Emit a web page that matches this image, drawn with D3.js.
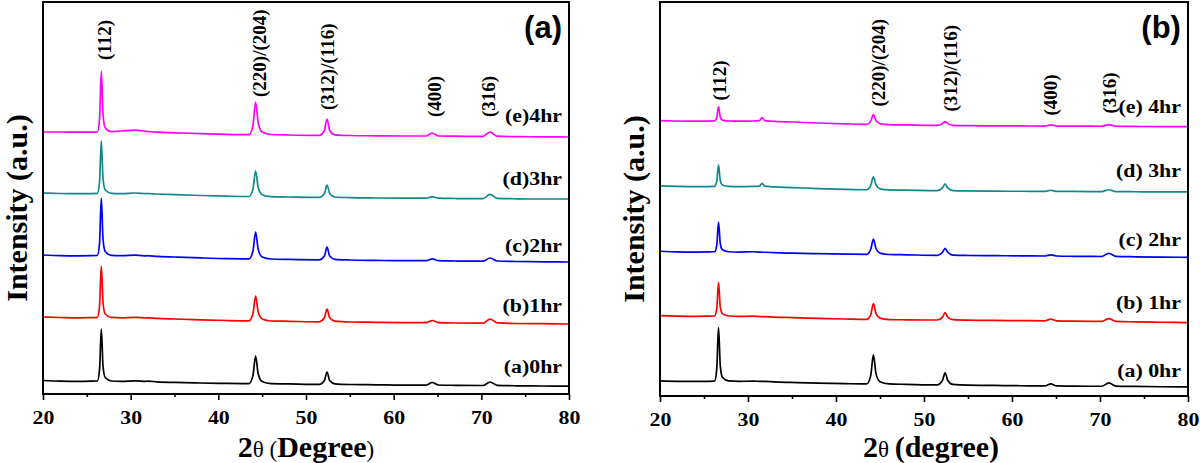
<!DOCTYPE html>
<html>
<head>
<meta charset="utf-8">
<script src="https://cdn.jsdelivr.net/npm/d3@7/dist/d3.min.js"></script>
<style>
  body { margin: 0; background: #fff; }
</style>
</head>
<body>
<svg id="chart" width="1200" height="463"></svg>
<script>
// 2-theta grid shared by every pattern
var theta = [20, 22, 24, 25.5, 26.2, 26.45, 26.65, 26.85, 27.1, 27.8, 29, 30.5, 31.3, 31.6, 31.9, 33, 35, 38, 41,
             43.5, 43.95, 44.25, 44.55, 45.0, 46, 48, 51.5, 52.1, 52.4, 52.7, 53.3, 55, 58, 61,
             63.7, 64.4, 65.1, 67, 70.2, 71.0, 71.8, 74, 77, 80];

// panel (a) intensities (a.u., before stacking offset)
var a0hr = [13.5, 12.8, 12.6, 12.8, 13, 24.5, 65, 27.5, 16.5, 13, 12.7, 13.2, 12.8, 12.6, 12.9, 12.2, 11.6, 11, 10.6,
            10.4, 18.6, 38, 20, 12.5, 10.4, 10.1, 9.6, 13.5, 22, 13.5, 10.2, 9.5, 9.2, 8.9,
            8.9, 11.5, 9, 8.7, 8.5, 12, 8.7, 8.2, 8, 7.8];
var a1hr = [14, 13.5, 13.2, 13.3, 13.6, 25, 65, 28, 17, 13.6, 13.2, 13.6, 13.3, 13, 13.2, 12.6, 12, 11.2, 10.5,
            10.2, 17.5, 35, 19, 12, 10, 9.7, 9.2, 13.2, 22, 13.2, 9.8, 9, 8.7, 8.4,
            8.3, 10.5, 8.4, 8, 7.8, 12, 8.2, 7.5, 7.3, 7];
var a2hr = [14, 13.4, 13.2, 13.3, 13.5, 26, 71, 29.5, 17.5, 13.6, 13.3, 13.8, 13.4, 13.1, 13.3, 12.6, 12, 11.1, 10.4,
            10.2, 18, 37, 19.5, 12, 10, 9.6, 9.2, 13, 22, 13, 9.7, 9, 8.6, 8.3,
            8.3, 10.2, 8.3, 8, 7.8, 11, 8, 7.5, 7.2, 7];
var a3hr = [14, 13.5, 13.3, 13.4, 13.6, 25, 66, 28, 17, 13.7, 13.4, 14, 13.6, 13.4, 13.5, 13, 12.3, 11.5, 10.8,
            10.5, 18, 36, 19.5, 12.3, 10.3, 10, 9.6, 13.5, 22, 13.5, 10, 9.4, 9, 8.8,
            8.8, 10.3, 8.8, 8.5, 8.3, 12.7, 8.7, 8.2, 8, 8];
var a4hr = [13, 13, 12.8, 12.8, 13, 26, 74, 30, 17, 13.4, 14, 14.8, 14.2, 13.8, 13.5, 12.8, 12.2, 11.4, 10.6,
            10.3, 19.5, 43, 22, 13, 10.5, 10, 9.6, 14.5, 26, 14.5, 10.2, 9.5, 9.2, 9,
            9, 12, 9, 8.8, 8.6, 13, 8.8, 8.4, 8.2, 8];

// panel (b) intensities
var b0hr = [15, 14.6, 14.5, 14.6, 14.8, 27, 68, 30, 18.5, 15, 14.6, 14.8, 14.6, 14.5, 14.5, 14, 13.5, 12.8, 12.3,
            12, 20.5, 41, 22, 14.2, 12, 11.6, 11, 15.5, 23, 15.5, 11.5, 10.8, 10.5, 10.2,
            10, 12, 10, 9.8, 9.7, 13, 9.8, 9.5, 9.2, 9];
var b1hr = [15, 14.5, 14.3, 14.4, 14.6, 22, 48, 23.5, 17, 14.6, 14.2, 14.4, 14.1, 14, 14, 13.5, 13, 12.3, 11.6,
            11.2, 16, 27, 17, 12.5, 11, 10.8, 10.6, 13.5, 18, 13.5, 11, 10.5, 10.2, 10,
            9.8, 11.5, 9.8, 9.5, 9.3, 12, 9.3, 8.8, 8.4, 8];
var b2hr = [15, 14.4, 14.2, 14.3, 14.5, 21, 44, 22.5, 16.5, 14.5, 14.2, 14.5, 14.2, 14, 14, 13.6, 13.1, 12.6, 12.2,
            12, 17, 27, 17.5, 13.2, 11.8, 11.5, 11, 14, 18, 14, 11.2, 10.8, 10.6, 10.5,
            10.3, 11.5, 10.3, 10, 9.8, 13, 9.9, 9.5, 9.2, 9];
var b3hr = [15, 14.5, 14.3, 14.4, 14.6, 19.5, 36, 20.5, 16, 14.6, 14.3, 14.5, 14.8, 17.5, 14.8, 14, 13.4, 12.4, 11.6,
            11.2, 15.5, 24, 16, 12, 11, 10.8, 10.3, 13, 17, 13, 10.4, 10, 9.8, 9.7,
            9.6, 10.7, 9.6, 9.5, 9.4, 11.2, 9.4, 9.2, 9, 9];
var b4hr = [15, 14.6, 14.4, 14.5, 14.7, 18, 29, 18.5, 15.5, 14.6, 14.4, 14.6, 15, 18, 15, 14.2, 13.6, 12.6, 11.8,
            11.3, 14.5, 21, 15, 12, 11, 10.7, 10.2, 12, 14, 12, 10.3, 10, 9.8, 9.7,
            9.6, 10.7, 9.6, 9.5, 9.4, 11, 9.4, 9.2, 9, 9];

var offsetsA = [0, 63, 125, 187, 249];
var offsetsB = [0, 65, 129, 194, 259];
var colors = ['#000000', '#ff0000', '#0000ff', '#0f8a8a', '#ff00ff'];
var namesA = ['(a)0hr', '(b)1hr', '(c)2hr', '(d)3hr', '(e)4hr'];
var namesB = ['(a) 0hr', '(b) 1hr', '(c) 2hr', '(d) 3hr', '(e) 4hr'];
var nameLevelA = [21, 82, 142, 209, 272];
var nameLevelB = [19, 87, 149, 218, 282];

// reflections
var peakLabels = ['(112)', '(220)/(204)', '(312)/(116)', '(400)', '(316)'];
var peakLabelThetaA = [27.8, 45.45, 53.2, 65.4, 71.55];
var peakLabelLevelA = [334, 297, 284, 277, 277];
var peakLabelThetaB = [27.5, 45.55, 53.75, 65.1, 71.8];
var peakLabelLevelB = [294, 288, 283, 279, 281];

var majorTicks = [20, 30, 40, 50, 60, 70, 80];
var minorTicks = [25, 35, 45, 55, 65, 75];

var serif = '"Liberation Serif", "Times New Roman", serif';
var sans = '"Liberation Sans", Arial, sans-serif';

var svg = d3.select('#chart');

var panels = [
    {left: 43, right: 569, top: 2, bottom: 394,
     series: [a0hr, a1hr, a2hr, a3hr, a4hr], offsets: offsetsA, names: namesA, nameLevel: nameLevelA,
     peakTheta: peakLabelThetaA, peakLevel: peakLabelLevelA, tag: '(a)', unit: 'Degree', boldParen: false, titleShift: 0},
    {left: 660, right: 1188, top: 2, bottom: 396,
     series: [b0hr, b1hr, b2hr, b3hr, b4hr], offsets: offsetsB, names: namesB, nameLevel: nameLevelB,
     peakTheta: peakLabelThetaB, peakLevel: peakLabelLevelB, tag: '(b)', unit: 'degree', boldParen: true, titleShift: 7}
];

panels.forEach(function (p) {
    var x = d3.scaleLinear().domain([20, 80]).range([p.left, p.right]);
    var y = d3.scaleLinear().domain([0, 392]).range([p.bottom, p.top]);
    var g = svg.append('g');

    var line = d3.line()
        .x(function (d, i) { return x(theta[i]); })
        .y(function (d) { return y(d); })
        .curve(d3.curveMonotoneX);

    // stacked patterns
    p.series.forEach(function (s, i) {
        g.append('path')
            .datum(s.map(function (v) { return v + p.offsets[i]; }))
            .attr('d', line)
            .attr('fill', 'none')
            .attr('stroke', colors[i])
            .attr('stroke-width', 1.7)
            .attr('stroke-linejoin', 'round');

        g.append('text')
            .attr('transform', 'translate(' + x(79.2) + ',' + y(p.nameLevel[i]) + ') scale(1.15,1)')
            .attr('text-anchor', 'end')
            .style('font-family', serif)
            .style('font-weight', 'bold')
            .style('font-size', '19px')
            .text(p.names[i]);
    });

    // reflection labels
    peakLabels.forEach(function (lab, k) {
        g.append('text')
            .attr('transform', 'translate(' + x(p.peakTheta[k]) + ',' + y(p.peakLevel[k]) + ') rotate(-90)')
            .attr('text-anchor', 'start')
            .style('font-family', serif)
            .style('font-weight', 'bold')
            .style('font-size', '19px')
            .text(lab);
    });

    // x axis
    var ax = g.append('g')
        .attr('transform', 'translate(0,' + p.bottom + ')')
        .call(d3.axisBottom(x).tickValues(majorTicks).tickSize(6));
    ax.select('.domain').remove();
    ax.selectAll('line').attr('stroke', '#000').attr('stroke-width', 1.6);
    ax.selectAll('text')
        .attr('y', 30)
        .attr('dy', null)
        .attr('transform', 'scale(1.15,1)')
        .attr('fill', '#000')
        .style('font-family', serif)
        .style('font-weight', 'bold')
        .style('font-size', '19px');

    var axMinor = g.append('g')
        .attr('transform', 'translate(0,' + p.bottom + ')')
        .call(d3.axisBottom(x).tickValues(minorTicks).tickSize(3).tickFormat(''));
    axMinor.select('.domain').remove();
    axMinor.selectAll('line').attr('stroke', '#000').attr('stroke-width', 1.6);

    // frame
    g.append('rect')
        .attr('x', p.left)
        .attr('y', p.top)
        .attr('width', p.right - p.left)
        .attr('height', p.bottom - p.top)
        .attr('fill', 'none')
        .attr('stroke', '#000')
        .attr('stroke-width', 2);

    // panel tag
    g.append('text')
        .attr('x', x(79.2))
        .attr('y', 38)
        .attr('text-anchor', 'end')
        .style('font-family', sans)
        .style('font-weight', 'bold')
        .style('font-size', '31px')
        .text(p.tag);

    // y title
    g.append('text')
        .attr('transform', 'translate(' + (p.left - 16) + ',' + ((p.top + p.bottom) / 2 + 10) + ') rotate(-90)')
        .attr('text-anchor', 'middle')
        .style('font-family', serif)
        .style('font-weight', 'bold')
        .style('font-size', '30px')
        .text('Intensity (a.u.)');

    // x title
    var xt = g.append('text')
        .attr('x', (p.left + p.right) / 2 + p.titleShift)
        .attr('y', 457)
        .attr('text-anchor', 'middle')
        .style('font-family', serif)
        .style('font-size', '30px');
    xt.append('tspan').style('font-weight', 'bold').text('2');
    xt.append('tspan').style('font-size', '23px').text('\u03b8 ');
    xt.append('tspan').style('font-weight', p.boldParen ? 'bold' : 'normal')
        .style('font-size', p.boldParen ? '30px' : '23px').text('(');
    xt.append('tspan').style('font-weight', 'bold').text(p.unit);
    xt.append('tspan').style('font-weight', p.boldParen ? 'bold' : 'normal')
        .style('font-size', p.boldParen ? '30px' : '23px').text(')');
});
</script>
</body>
</html>
